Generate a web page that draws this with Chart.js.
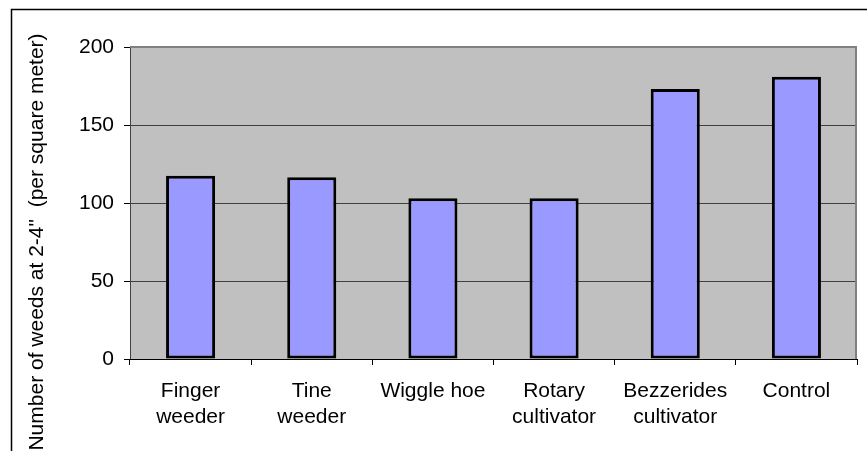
<!DOCTYPE html>
<html>
<head>
<meta charset="utf-8">
<script src="https://cdn.jsdelivr.net/npm/chart.js@4"></script>
<style>
  body { margin: 0; background: #fff; }
  canvas { display: block; }
</style>
</head>
<body>
<canvas id="weeds-chart" width="867" height="451"></canvas>
<script>
// data
const categories = [
    ['Finger', 'weeder'],
    ['Tine', 'weeder'],
    'Wiggle hoe',
    ['Rotary', 'cultivator'],
    ['Bezzerides', 'cultivator'],
    'Control'
];
const weedCounts = [117.5, 116.5, 103, 103, 173, 181];
const yTicks = [0, 50, 100, 150, 200];
const yTitle = 'Number of weeds at 2-4"  (per square meter)';

const fontFamily = '"Liberation Sans", Arial, sans-serif';

// plot background, outer frame and rotated axis title
const excelFrame = {
    id: 'excelFrame',
    beforeDraw: function(chart) {
        const c = chart.ctx;
        const a = chart.chartArea;
        c.save();
        c.fillStyle = '#fff';
        c.fillRect(0, 0, chart.width, chart.height);
        c.strokeStyle = '#000';
        c.lineWidth = 1.5;
        c.beginPath();
        c.moveTo(11.5, chart.height + 5);
        c.lineTo(11.5, 9.5);
        c.lineTo(chart.width + 5, 9.5);
        c.stroke();
        c.fillStyle = '#C0C0C0';
        c.fillRect(a.left, a.top, a.right - a.left, a.bottom - a.top);
        c.restore();
    },
    afterDraw: function(chart) {
        const c = chart.ctx;
        const a = chart.chartArea;
        c.save();
        c.strokeStyle = '#808080';
        c.lineWidth = 2;
        c.beginPath();
        c.moveTo(a.left, a.top);
        c.lineTo(a.right - 1, a.top);
        c.lineTo(a.right - 1, a.bottom);
        c.stroke();
        c.translate(37, 242);
        c.rotate(-Math.PI / 2);
        c.fillStyle = '#000';
        c.font = '21px ' + fontFamily;
        c.textAlign = 'center';
        c.textBaseline = 'middle';
        c.fillText(yTitle, 0, 0);
        c.restore();
    }
};

const ctx = document.getElementById('weeds-chart');
const data = {
    labels: categories,
    datasets: [{
        label: 'Weeds',
        data: weedCounts,
        backgroundColor: '#9999FF',
        borderColor: '#000',
        borderWidth: 3,
        borderSkipped: false,
        barPercentage: 0.405,
        categoryPercentage: 1
    }]
};
const config = {
    type: 'bar',
    data: data,
    options: {
        responsive: false,
        animation: false,
        layout: {
            padding: { top: 47, right: 10, left: 0, bottom: 0 }
        },
        plugins: {
            legend: { display: false },
            tooltip: { enabled: false }
        },
        scales: {
            y: {
                min: yTicks[0],
                max: yTicks[yTicks.length - 1],
                afterFit: function(scale) { scale.width = 130; },
                afterBuildTicks: function(scale) {
                    scale.ticks = yTicks.map(v => ({ value: v }));
                },
                ticks: {
                    color: '#000',
                    padding: 10,
                    font: { size: 21, family: fontFamily }
                },
                grid: {
                    color: function(c) { return c.tick && c.tick.value === 200 ? '#808080' : '#404040'; },
                    tickColor: '#000',
                    tickLength: 6,
                    lineWidth: 1
                },
                border: { color: '#404040', width: 1 }
            },
            x: {
                afterFit: function(scale) { scale.height = 92; },
                ticks: {
                    color: '#000',
                    padding: 13,
                    font: { size: 21, family: fontFamily, lineHeight: 1.25 }
                },
                grid: {
                    drawOnChartArea: false,
                    tickColor: '#000',
                    tickLength: 6,
                    offset: true
                },
                border: { color: '#000', width: 1 }
            }
        }
    },
    plugins: [excelFrame]
};

const myChart = new Chart(ctx, config);
</script>
</body>
</html>
